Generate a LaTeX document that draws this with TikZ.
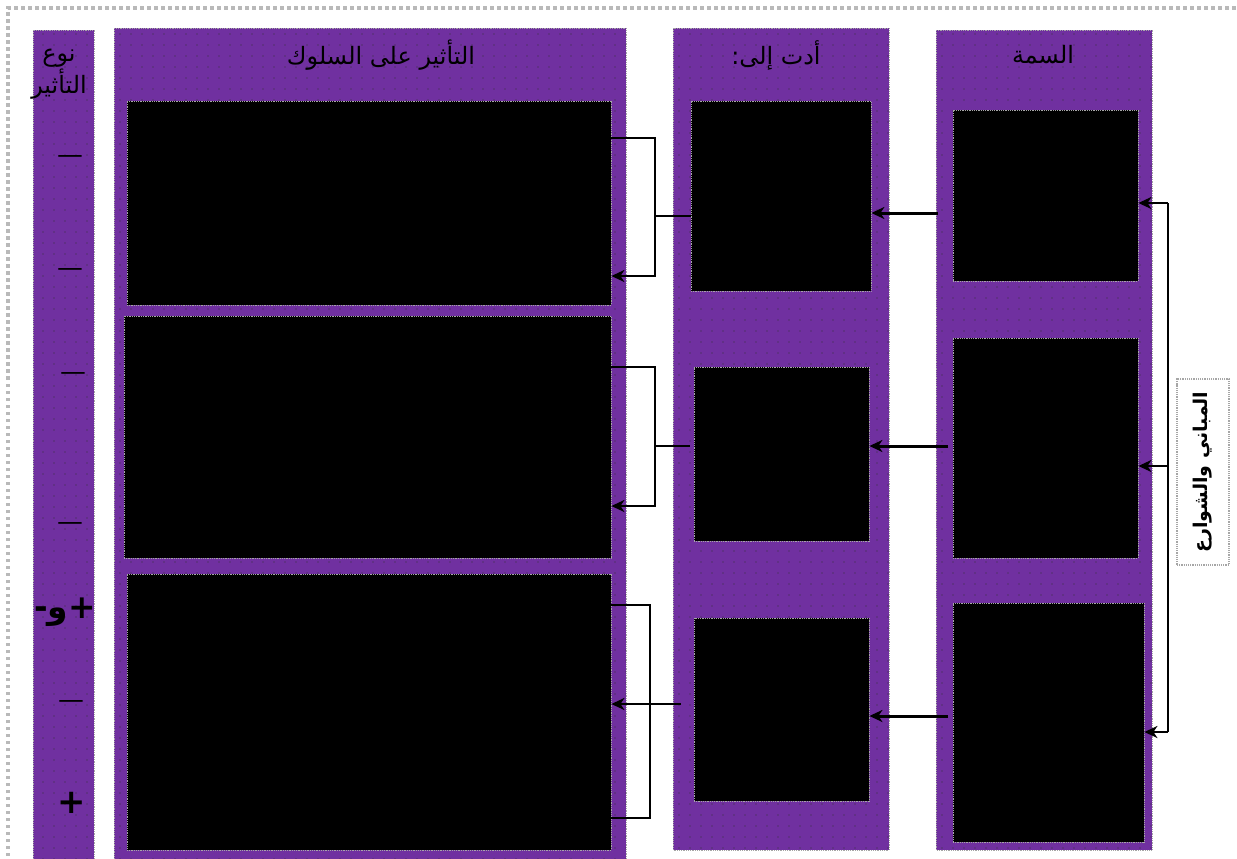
\documentclass[tikz,border=0pt]{standalone}
\usepackage{fontspec}
\newfontfamily\arabicfont[Script=Arabic]{DejaVu Sans}
\TeXXeTstate=1
\usetikzlibrary{arrows.meta,patterns.meta}
\definecolor{purp}{HTML}{7030A0}
\pgfdeclarepattern{name=sparsedots,type=uncolored,
  bottom left={\pgfpoint{-1pt}{-1pt}},top right={\pgfpoint{10pt}{10pt}},
  tile size={\pgfpoint{11pt}{11pt}},
  code={\pgfpathcircle{\pgfpointorigin}{0.6pt}\pgfusepath{fill}}}
\newcommand\artxt[1]{{\arabicfont\beginR #1\endR}}
\begin{document}
\begin{tikzpicture}[x=1bp,y=-1bp,font=\fontsize{24}{28}\selectfont,
  col/.style={draw=gray!70,densely dotted,line width=0.8bp,fill=purp,postaction={pattern=sparsedots,pattern color=black!80}},
  bx/.style={draw=gray!70,densely dotted,line width=0.8bp,fill=black,inner sep=0pt},
  hd/.style={inner sep=0pt,align=center},
  sg/.style={inner sep=0pt,font=\fontsize{26}{26}\selectfont\arabicfont},
  arr/.style={line width=2.5bp,-{Stealth[length=13bp,width=12bp,inset=4bp]}},
  ln/.style={line width=2.5bp}]
  \useasboundingbox (0,0) rectangle (1237,859);
  % page frame
  \draw[gray!55,line width=3.5bp,dash pattern=on 3.5bp off 3.5bp] (8,870) -- (8,8) -- (1245,8);
  % columns
  \path[col] (33,30) rectangle (94,870);
  \path[col] (114,28) rectangle (626,870);
  \path[col] (673,28) rectangle (889,850);
  \path[col] (936,30) rectangle (1152,850);
  % headers
  \node[hd] (h1) at (59,74) {\artxt{نوع}\\[1bp]\artxt{التأثير}};
  \node[hd] (h2) at (381,55) {\artxt{التأثير على السلوك}};
  \node[hd] (h3) at (776,55) {\artxt{أدت إلى:}};
  \node[hd] (h4) at (1043,55) {\artxt{السمة}};
  % signs
  \node[sg] (s1) at (70,159) {—};
  \node[sg] (s2) at (70,272) {—};
  \node[sg] (s3) at (73,376) {—};
  \node[sg] (s4) at (70,526) {—};
  \node[sg,font=\fontsize{33}{33}\selectfont\bfseries] (s5) at (65,612) {\artxt{+و-}};
  \node[sg] (s6) at (71,704) {—};
  \node[sg,font=\fontsize{34}{34}\selectfont\arabicfont\bfseries] (s7) at (72,803) {+};
  % boxes
  \node[bx,minimum width=484bp,minimum height=204bp] (A1) at (369,203) {};
  \node[bx,minimum width=487bp,minimum height=242bp] (A2) at (367.5,437) {};
  \node[bx,minimum width=484bp,minimum height=276bp] (A3) at (369,712) {};
  \node[bx,minimum width=180bp,minimum height=190bp] (B1) at (781,196) {};
  \node[bx,minimum width=175bp,minimum height=174bp] (B2) at (781.5,454) {};
  \node[bx,minimum width=175bp,minimum height=183bp] (B3) at (781.5,709.5) {};
  \node[bx,minimum width=185bp,minimum height=171bp] (C1) at (1045.5,195.5) {};
  \node[bx,minimum width=185bp,minimum height=220bp] (C2) at (1045.5,448) {};
  \node[bx,minimum width=191bp,minimum height=239bp] (C3) at (1048.5,722.5) {};
  \node[draw=gray!70,densely dotted,line width=1.2bp,fill=white,minimum width=52bp,minimum height=186bp,inner sep=0pt] (L) at (1203,472) {};
  \node[rotate=90,inner sep=0pt,font=\fontsize{19}{19}\selectfont\bfseries] (Lt) at (L.center) {\artxt{المباني والشوارع}};
  % brackets to the effects
  \coordinate (k1) at (655,216);
  \coordinate (k2) at (655,446);
  \coordinate (k3) at (650,704);
  \draw[arr] ([yshift=65bp]A1.east) -| (k1) |- ([yshift=-73bp]A1.east);
  \draw[ln] (B1.west |- k1) -- (k1);
  \draw[arr] ([yshift=70bp]A2.east) -| (k2) |- ([yshift=-69bp]A2.east);
  \draw[ln] ([xshift=-4bp]B2.west |- k2) -- (k2);
  \draw[ln] ([yshift=107bp]A3.east) -| (k3) |- ([yshift=-106bp]A3.east);
  \draw[arr] ([xshift=-13bp]B3.west |- k3) -- (A3.east |- k3);
  % trait to result
  \coordinate (c1) at (938,213);
  \coordinate (c2) at (948,446);
  \coordinate (c3) at (948,716);
  \foreach \i in {1,2,3}
    \draw[arr,line width=3bp] (c\i) -- (B\i.east |- c\i);
  % right bracket
  \coordinate (r1) at (1168,203);
  \coordinate (r2) at (1168,466);
  \coordinate (r3) at (1168,732);
  \draw[ln] (r1) -- (r3);
  \foreach \i in {1,2,3}
    \draw[arr] (r\i) -- (C\i.east |- r\i);
\end{tikzpicture}
\end{document}
